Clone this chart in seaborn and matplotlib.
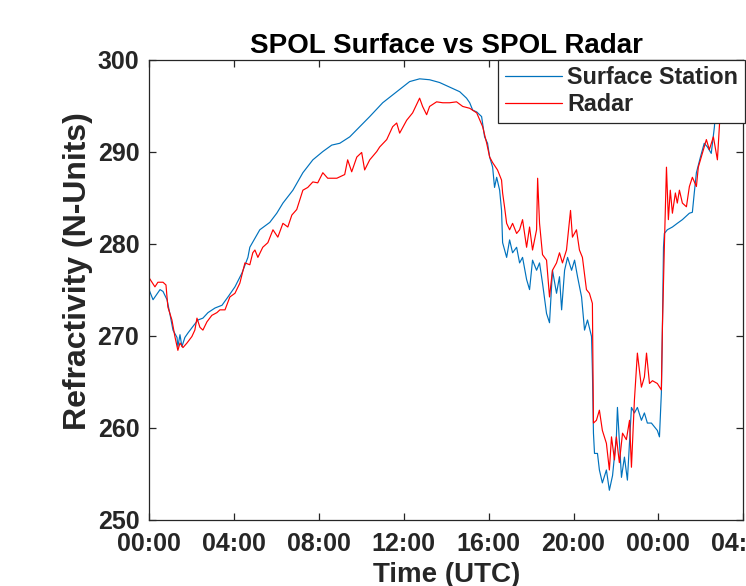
import matplotlib
matplotlib.use("Agg")
import matplotlib.pyplot as plt
import seaborn as sns
import pandas as pd
from matplotlib.ticker import FixedLocator, FuncFormatter

# ---- data (hours since 00:00 UTC, refractivity in N-units) ----
surface_hours = [0.00, 0.19, 0.52, 0.66, 0.85, 0.99, 1.13, 1.32, 1.36, 1.46, 1.55, 1.69, 1.84, 2.07,
                 2.31, 2.54, 2.78, 3.11, 3.44, 3.72, 4.05, 4.38, 4.66, 4.75, 5.22, 5.69, 6.02, 6.31,
                 6.78, 7.25, 7.72, 8.19, 8.61, 8.99, 9.46, 9.93, 10.40, 11.01, 11.67, 12.28, 12.75,
                 13.22, 13.69, 14.16, 14.64, 14.96, 15.11, 15.25, 15.44, 15.67, 15.81, 15.95, 16.05,
                 16.19, 16.28, 16.38, 16.52, 16.61, 16.66, 16.85, 16.99, 17.13, 17.32, 17.46, 17.60,
                 17.79, 17.93, 18.07, 18.26, 18.40, 18.54, 18.73, 18.87, 19.01, 19.20, 19.34, 19.44,
                 19.58, 19.72, 19.91, 20.05, 20.19, 20.38, 20.52, 20.66, 20.85, 20.89, 20.94, 20.99,
                 21.13, 21.22, 21.36, 21.55, 21.69, 21.84, 22.02, 22.07, 22.26, 22.40, 22.54, 22.73,
                 22.87, 23.01, 23.20, 23.34, 23.48, 23.67, 23.81, 23.95, 24.05, 24.14, 24.19, 24.24,
                 24.28, 24.42, 24.66, 24.89, 25.13, 25.46, 25.60, 25.69, 25.79, 25.98, 26.16, 26.31,
                 26.49, 26.64, 26.73, 26.87, 27.01]
surface_values = [275.0, 273.9, 275.0, 274.8, 273.9, 272.3, 270.6, 269.8, 268.8, 270.1, 268.8, 269.8,
                  270.3, 271.0, 271.7, 271.9, 272.5, 273.0, 273.3, 274.2, 275.3, 276.8, 278.5, 279.6,
                  281.5, 282.3, 283.3, 284.4, 285.8, 287.7, 289.1, 290.0, 290.7, 290.9, 291.6, 292.7,
                  293.8, 295.3, 296.5, 297.6, 297.9, 297.8, 297.5, 297.0, 296.5, 295.8, 295.3, 294.5,
                  294.3, 293.8, 291.6, 290.9, 289.4, 288.3, 286.1, 287.2, 285.8, 283.6, 280.1, 278.5,
                  280.4, 279.0, 279.6, 277.9, 278.5, 276.1, 275.0, 278.2, 277.1, 277.9, 275.7, 272.4,
                  271.4, 277.1, 274.6, 276.4, 272.8, 277.1, 278.5, 277.1, 278.2, 276.4, 274.2, 270.6,
                  271.7, 269.9, 266.3, 259.4, 257.2, 257.2, 255.4, 254.0, 255.4, 253.2, 254.8, 259.0,
                  262.2, 254.6, 256.8, 254.3, 262.2, 261.6, 262.2, 260.8, 261.6, 260.5, 260.5, 260.1,
                  259.7, 259.0, 263.8, 271.0, 279.6, 281.1, 281.5, 281.8, 282.2, 282.6, 283.3, 283.4,
                  285.5, 287.7, 289.4, 290.9, 290.5, 289.8, 292.7, 296.4, 300.0, 302.1]

radar_hours = [0.00, 0.14, 0.28, 0.42, 0.66, 0.80, 0.89, 1.08, 1.22, 1.36, 1.46, 1.60, 1.79, 2.02,
               2.16, 2.26, 2.40, 2.54, 2.73, 2.96, 3.20, 3.34, 3.58, 3.81, 4.05, 4.28, 4.52, 4.75,
               4.89, 4.99, 5.13, 5.36, 5.60, 5.84, 6.07, 6.31, 6.54, 6.73, 6.96, 7.25, 7.48, 7.72,
               7.95, 8.19, 8.42, 8.85, 9.22, 9.36, 9.55, 9.79, 10.02, 10.16, 10.40, 10.73, 10.87,
               11.20, 11.48, 11.67, 11.81, 12.14, 12.42, 12.75, 12.89, 13.08, 13.22, 13.55, 13.84,
               14.16, 14.49, 14.78, 15.11, 15.44, 15.72, 15.91, 16.05, 16.19, 16.42, 16.61, 16.66,
               16.75, 16.85, 16.99, 17.13, 17.32, 17.46, 17.60, 17.79, 17.93, 18.07, 18.26, 18.31,
               18.40, 18.54, 18.73, 18.87, 19.01, 19.20, 19.34, 19.48, 19.67, 19.86, 19.95, 20.14,
               20.28, 20.42, 20.61, 20.75, 20.89, 20.94, 21.08, 21.22, 21.36, 21.55, 21.69, 21.79,
               21.93, 22.02, 22.16, 22.31, 22.49, 22.64, 22.73, 22.87, 23.01, 23.20, 23.34, 23.44,
               23.58, 23.72, 23.95, 24.14, 24.19, 24.28, 24.38, 24.47, 24.56, 24.66, 24.80, 24.89,
               24.99, 25.13, 25.32, 25.46, 25.60, 25.79, 25.88, 26.07, 26.26, 26.40, 26.59, 26.78,
               26.92, 27.01, 27.06, 27.15]
radar_values = [276.3, 275.8, 275.3, 275.8, 275.8, 275.5, 273.1, 271.7, 269.9, 268.4, 269.2, 268.7,
                269.2, 269.9, 270.6, 271.9, 270.9, 270.6, 271.5, 272.2, 272.5, 272.8, 272.8, 274.2,
                274.6, 275.7, 277.9, 277.7, 279.0, 279.3, 278.5, 279.6, 280.1, 281.5, 280.7, 282.2,
                281.8, 283.1, 283.7, 285.8, 286.1, 286.7, 286.6, 287.7, 287.1, 287.1, 287.5, 289.1,
                287.8, 289.4, 289.9, 288.0, 289.1, 290.0, 290.5, 291.3, 292.7, 293.1, 292.0, 293.4,
                294.2, 295.8, 294.9, 294.0, 294.9, 295.4, 295.3, 295.3, 295.4, 294.9, 294.7, 294.2,
                292.7, 290.9, 289.4, 288.8, 288.0, 286.9, 285.5, 284.0, 282.2, 281.5, 282.2, 281.1,
                281.5, 282.6, 279.6, 281.8, 279.3, 281.5, 287.1, 282.2, 278.8, 278.2, 274.2, 277.1,
                277.9, 279.0, 277.9, 279.3, 283.6, 280.7, 281.5, 279.3, 278.5, 275.0, 274.6, 273.5,
                260.5, 260.8, 261.9, 259.7, 258.3, 255.4, 259.0, 256.5, 259.0, 256.2, 259.4, 258.7,
                260.8, 255.7, 263.0, 268.1, 264.4, 265.5, 268.1, 264.8, 265.1, 264.8, 264.1, 271.0,
                279.6, 288.3, 282.6, 285.8, 283.3, 285.5, 284.4, 285.8, 284.4, 284.0, 286.2, 287.2,
                286.2, 288.3, 289.8, 291.3, 290.2, 291.6, 289.1, 294.5, 298.1, 300.0, 302.1]

series_names = ["Surface Station", "Radar"]
series_colors = ["#0072BD", "#FF0000"]
x_ticks = [0, 4, 8, 12, 16, 20, 24, 28]
y_ticks = [250, 260, 270, 280, 290, 300]

df = pd.concat([
    pd.DataFrame({"hour": surface_hours, "N": surface_values, "series": series_names[0]}),
    pd.DataFrame({"hour": radar_hours, "N": radar_values, "series": series_names[1]}),
], ignore_index=True)

sns.set_theme(style="ticks")
plt.rcParams["font.family"] = ["Liberation Sans", "DejaVu Sans"]
plt.rcParams["font.weight"] = "bold"

fig = plt.figure(figsize=(7.46, 5.86), dpi=100)
ax = fig.add_axes([149 / 746, 1 - 519.7 / 586, (743.3 - 149) / 746, (519.7 - 59.5) / 586])

sns.lineplot(data=df, x="hour", y="N", hue="series", hue_order=series_names,
             palette=dict(zip(series_names, series_colors)), estimator=None, sort=False,
             linewidth=0.85, ax=ax)

ax.set_xlim(0, 28)
ax.set_ylim(250, 300)
ax.xaxis.set_major_locator(FixedLocator(x_ticks))
ax.xaxis.set_major_formatter(FuncFormatter(lambda v, p: f"{int(round(v)) % 24:02d}:00"))
ax.yaxis.set_major_locator(FixedLocator(y_ticks))

for s in ax.spines.values():
    s.set_visible(True)
    s.set_color("#262626")
    s.set_linewidth(0.9)
ax.tick_params(direction="in", length=5, width=0.9, color="#262626", top=True, right=True,
               labelsize=18, labelcolor="#262626")
ax.tick_params(axis="x", pad=9)
ax.tick_params(axis="y", pad=7)
for lab in ax.get_xticklabels() + ax.get_yticklabels():
    lab.set_fontweight("bold")

ax.set_title("SPOL Surface vs SPOL Radar", fontsize=20, fontweight="bold", color="black", pad=5)
ax.set_xlabel("Time (UTC)", fontsize=20, fontweight="bold", color="#262626", labelpad=4)
ax.set_ylabel("Refractivity (N-Units)", fontsize=23, fontweight="bold", color="#262626")
ax.yaxis.set_label_coords(-0.095, 0.54)

leg = ax.legend(loc="upper right", bbox_to_anchor=(1.003, 1.0), borderaxespad=0.0,
                fancybox=False, frameon=True, edgecolor="#262626", framealpha=1.0,
                handlelength=2.45, handletextpad=0.22, borderpad=0.3,
                labelspacing=0.15, prop={"weight": "bold", "size": 16.8})
leg.get_frame().set_linewidth(0.9)
for line in leg.get_lines():
    line.set_linewidth(0.9)

fig.savefig("out.png", dpi=100)
